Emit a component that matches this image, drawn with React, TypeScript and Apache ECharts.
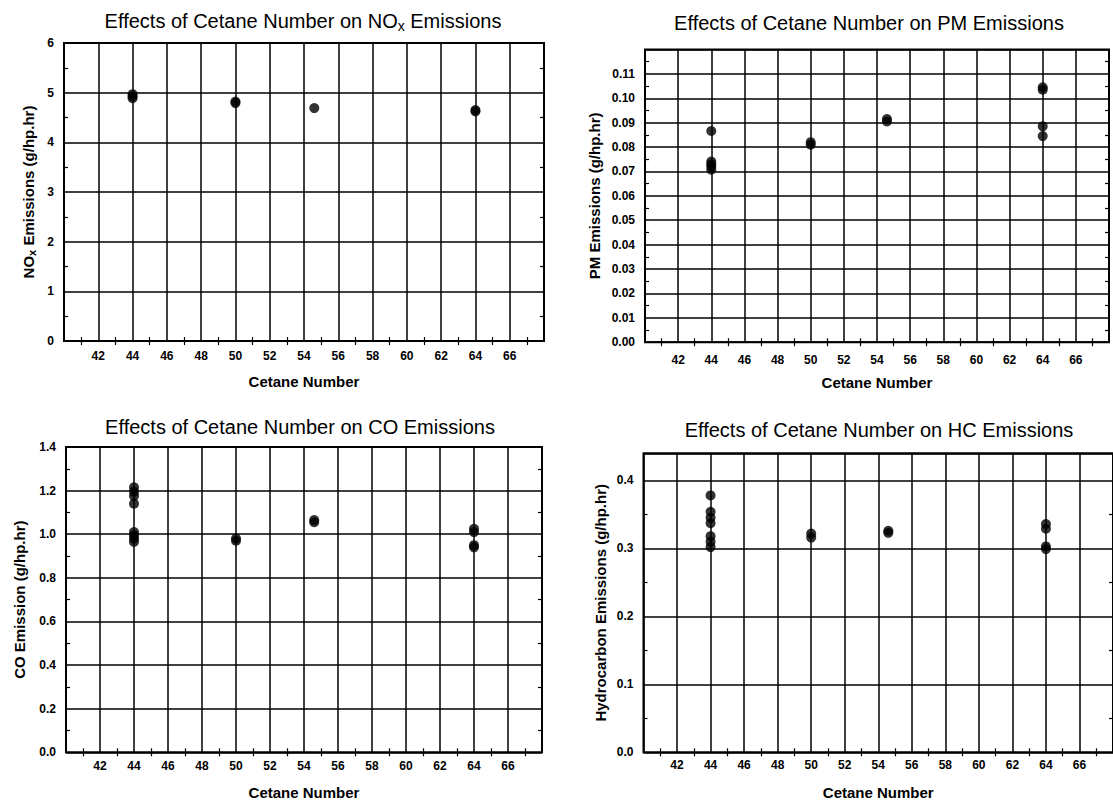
import React, { useEffect, useRef } from 'react';
import * as echarts from 'echarts';

// ---------- data ----------
const xMin = 40;
const xMax = 68;
const xInterval = 2;

const noxCetane = [44, 44, 44, 50, 50, 54.6, 64, 64];
const noxValues = [4.89, 4.93, 4.97, 4.79, 4.82, 4.69, 4.62, 4.65];

const pmCetane = [44, 44, 44, 44, 44, 50, 50, 54.6, 54.6, 64, 64, 64, 64];
const pmValues = [0.0866, 0.0707, 0.072, 0.073, 0.0741, 0.081, 0.082, 0.0905, 0.0915, 0.1035, 0.1045, 0.0885, 0.0845];

const coCetane = [44, 44, 44, 44, 44, 44, 44, 44, 50, 50, 54.6, 54.6, 64, 64, 64, 64];
const coValues = [1.215, 1.195, 1.175, 1.14, 1.01, 0.995, 0.98, 0.965, 0.97, 0.98, 1.055, 1.065, 1.01, 1.025, 0.94, 0.95];

const hcCetane = [44, 44, 44, 44, 44, 44, 44, 50, 50, 54.6, 54.6, 64, 64, 64, 64];
const hcValues = [0.378, 0.354, 0.345, 0.337, 0.318, 0.31, 0.302, 0.316, 0.322, 0.323, 0.326, 0.336, 0.329, 0.303, 0.299];

const titles = [
  '{a|Effects of Cetane Number on NO}{s|x}{a| Emissions}',
  '{a|Effects of Cetane Number on PM Emissions}',
  '{a|Effects of Cetane Number on CO Emissions}',
  '{a|Effects of Cetane Number on HC Emissions}',
];
const yNames = [
  '{a|NO}{s|x}{a| Emissions (g/hp.hr)}',
  '{a|PM Emissions (g/hp.hr)}',
  '{a|CO Emission (g/hp.hr)}',
  '{a|Hydrocarbon Emissions (g/hp.hr)}',
];
const xName = 'Cetane Number';

const yMaxes = [6, 0.12, 1.4, 0.44];
const yIntervals = [1, 0.01, 0.2, 0.1];
const yDecimals = [0, 2, 1, 1];
const yShowMax = [true, false, true, false];

// ---------- layout ----------
const FONT = '"Liberation Sans", Arial, Helvetica, sans-serif';
const panels = [
  { left: 64, top: 43, width: 480, height: 298, titleX: 303, titleY: 21, nameGap: 27, xLabelMargin: 9 },
  { left: 645, top: 49.5, width: 464, height: 292.7, titleX: 869, titleY: 23, nameGap: 42, xLabelMargin: 12 },
  { left: 66, top: 447, width: 476, height: 305.3, titleX: 300, titleY: 427, nameGap: 38, xLabelMargin: 8 },
  { left: 643.5, top: 453.3, width: 476, height: 299, titleX: 879, titleY: 430, nameGap: 34, xLabelMargin: 7 },
];

const seriesData = [
  noxCetane.map((c, i) => [c, noxValues[i]]),
  pmCetane.map((c, i) => [c, pmValues[i]]),
  coCetane.map((c, i) => [c, coValues[i]]),
  hcCetane.map((c, i) => [c, hcValues[i]]),
];

function buildOption() {
  const grid: any[] = [];
  const xAxis: any[] = [];
  const yAxis: any[] = [];
  const series: any[] = [];
  const graphic: any[] = [];
  const lineCol = '#000';

  panels.forEach((p, i) => {
    grid.push({
      left: p.left,
      top: p.top,
      width: p.width,
      height: p.height,
      show: true,
      borderColor: lineCol,
      borderWidth: 2,
      backgroundColor: 'transparent',
    });
    const minor = { show: true, splitNumber: 2, length: 4, lineStyle: { color: lineCol, width: 1.2 } };
    xAxis.push({
      type: 'value',
      gridIndex: i,
      position: 'bottom',
      min: xMin,
      max: xMax,
      interval: xInterval,
      axisLine: { show: false },
      axisTick: { show: false, inside: true },
      minorTick: minor,
      splitLine: { show: true, lineStyle: { color: lineCol, width: 1.5 } },
      axisLabel: {
        showMinLabel: false,
        showMaxLabel: false,
        margin: p.xLabelMargin,
        fontFamily: FONT,
        fontWeight: 'bold',
        fontSize: 12,
        color: '#000',
      },
      name: xName,
      nameLocation: 'middle',
      nameGap: 33,
      nameTextStyle: { fontFamily: FONT, fontWeight: 'bold', fontSize: 15, color: '#000' },
    });
    xAxis.push({
      type: 'value',
      gridIndex: i,
      position: 'top',
      min: xMin,
      max: xMax,
      interval: xInterval,
      axisLine: { show: false },
      axisTick: { show: false, inside: true },
      minorTick: minor,
      splitLine: { show: false },
      axisLabel: { show: false },
    });
    const dec = yDecimals[i];
    const richName = {
      a: { fontFamily: FONT, fontWeight: 'bold', fontSize: 15, color: '#000', lineHeight: 18 },
      s: { fontFamily: FONT, fontWeight: 'bold', fontSize: 11, color: '#000', lineHeight: 12, padding: [8, 0, 0, 0] },
    };
    yAxis.push({
      type: 'value',
      gridIndex: i,
      position: 'left',
      min: 0,
      max: yMaxes[i],
      interval: yIntervals[i],
      axisLine: { show: false },
      axisTick: { show: false, inside: true },
      minorTick: minor,
      splitLine: { show: true, lineStyle: { color: lineCol, width: 1.5 } },
      axisLabel: {
        showMaxLabel: yShowMax[i],
        margin: 10,
        formatter: (v: number) => v.toFixed(dec),
        fontFamily: FONT,
        fontWeight: 'bold',
        fontSize: 12,
        color: '#000',
      },
      name: yNames[i],
      nameLocation: 'middle',
      nameGap: p.nameGap,
      nameTextStyle: { fontFamily: FONT, fontWeight: 'bold', fontSize: 15, color: '#000', rich: richName },
    });
    yAxis.push({
      type: 'value',
      gridIndex: i,
      position: 'right',
      min: 0,
      max: yMaxes[i],
      interval: yIntervals[i],
      axisLine: { show: false },
      axisTick: { show: false, inside: true },
      minorTick: minor,
      splitLine: { show: false },
      axisLabel: { show: false },
    });
    series.push({
      type: 'scatter',
      xAxisIndex: 2 * i,
      yAxisIndex: 2 * i,
      symbol: 'circle',
      symbolSize: 10,
      itemStyle: { color: '#000' },
      data: seriesData[i],
    });
    graphic.push({
      type: 'text',
      x: p.titleX,
      y: p.titleY,
      style: {
        text: titles[i],
        align: 'center',
        verticalAlign: 'middle',
        rich: {
          a: { fontFamily: FONT, fontSize: 20, color: '#000', lineHeight: 24 },
          s: { fontFamily: FONT, fontSize: 14, color: '#000', lineHeight: 14, padding: [10, 0, 0, 0] },
        },
      },
    });
  });

  return {
    animation: false,
    backgroundColor: '#fff',
    grid,
    xAxis,
    yAxis,
    series,
    graphic,
  };
}

export default function App() {
  const ref = useRef<HTMLDivElement>(null);
  useEffect(() => {
    if (!ref.current) return;
    const chart = echarts.init(ref.current, undefined, { renderer: 'svg' });
    chart.setOption(buildOption() as any);
    return () => chart.dispose();
  }, []);
  return (
    <div
      ref={ref}
      style={{ position: 'absolute', left: 0, top: 0, width: 1113, height: 804, background: '#fff' }}
    />
  );
}
